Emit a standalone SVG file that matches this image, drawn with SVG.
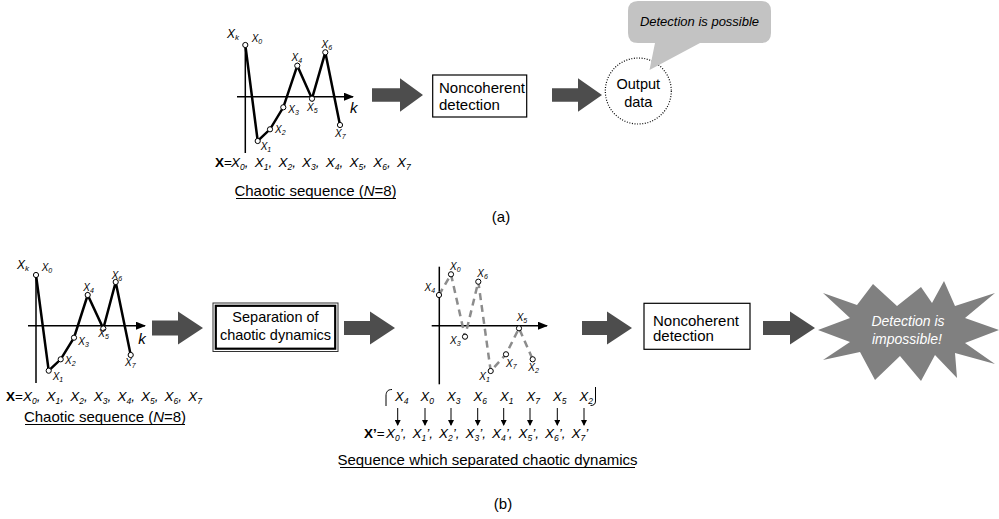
<svg xmlns="http://www.w3.org/2000/svg" width="999" height="519" viewBox="0 0 999 519">
<style>
text{font-family:"Liberation Sans",Arial,sans-serif;fill:#000}
.lbl{font-size:10px;font-style:italic}
.sb{font-size:7px}
.f{font-size:13.5px;font-style:italic}
.fs{font-size:8.5px}
.t15{font-size:15px}
.bx{fill:#fff;stroke:#000;stroke-width:1.2}
.ax{stroke:#000;stroke-width:1.5;fill:none}
.sol{stroke:#000;stroke-width:2.5;fill:none;stroke-linejoin:miter}
.dsh{stroke:#8c8c8c;stroke-width:2.5;fill:none;stroke-dasharray:7 5}
.pt{fill:#fff;stroke:#000;stroke-width:1}
.big{fill:#4d4d4d}
.da{stroke:#000;stroke-width:1;fill:none}
.ul{stroke:#000;stroke-width:1}
</style>
<defs>
<marker id="ah" markerWidth="10" markerHeight="8" refX="9" refY="4" orient="auto" markerUnits="userSpaceOnUse"><path d="M0,0 L10,4 L0,8 z" fill="#000"/></marker>
<marker id="dh" markerWidth="6" markerHeight="6" refX="5" refY="3" orient="auto" markerUnits="userSpaceOnUse"><path d="M0,0 L6,3 L0,6 z" fill="#000"/></marker>
</defs>

<!-- (a) chaotic graph -->
<g id="graph-a">
<line class="ax" x1="245.3" y1="45" x2="245.3" y2="153"/>
<line class="ax" x1="237" y1="96.7" x2="353" y2="96.7" marker-end="url(#ah)"/>
<polyline class="sol" points="245.3,45 257.7,141 270,129.3 283.3,107.3 297.3,65.7 312,98.7 325.3,52.3 340,125"/>
<circle class="pt" cx="245.3" cy="45" r="2.6"/><circle class="pt" cx="257.7" cy="141" r="2.6"/><circle class="pt" cx="270" cy="129.3" r="2.6"/><circle class="pt" cx="283.3" cy="107.3" r="2.6"/><circle class="pt" cx="297.3" cy="65.7" r="2.6"/><circle class="pt" cx="312" cy="98.7" r="2.6"/><circle class="pt" cx="325.3" cy="52.3" r="2.6"/><circle class="pt" cx="340" cy="125" r="2.6"/>
<text x="227" y="38" style="font-size:12px;font-style:italic">X<tspan style="font-size:8px" dy="2">k</tspan></text>
<text class="lbl" x="251.7" y="42">X<tspan class="sb" dy="2">0</tspan></text>
<text class="lbl" x="260.7" y="150">X<tspan class="sb" dy="2">1</tspan></text>
<text class="lbl" x="275" y="133">X<tspan class="sb" dy="2">2</tspan></text>
<text class="lbl" x="288.3" y="113">X<tspan class="sb" dy="2">3</tspan></text>
<text class="lbl" x="291.5" y="61">X<tspan class="sb" dy="2">4</tspan></text>
<text class="lbl" x="307" y="111">X<tspan class="sb" dy="2">5</tspan></text>
<text class="lbl" x="321.5" y="48">X<tspan class="sb" dy="2">6</tspan></text>
<text class="lbl" x="335" y="137">X<tspan class="sb" dy="2">7</tspan></text>
<text x="350" y="113" style="font-size:15px;font-style:italic">k</text>
<text class="f" y="167"><tspan x="215" style="font-weight:bold;font-style:normal">X</tspan><tspan style="font-style:normal">=</tspan><tspan x="231">X</tspan><tspan class="fs" dy="2.5">0</tspan><tspan dy="-2.5">,</tspan><tspan x="254.7">X</tspan><tspan class="fs" dy="2.5">1</tspan><tspan dy="-2.5">,</tspan><tspan x="278.4">X</tspan><tspan class="fs" dy="2.5">2</tspan><tspan dy="-2.5">,</tspan><tspan x="302.1">X</tspan><tspan class="fs" dy="2.5">3</tspan><tspan dy="-2.5">,</tspan><tspan x="325.8">X</tspan><tspan class="fs" dy="2.5">4</tspan><tspan dy="-2.5">,</tspan><tspan x="349.5">X</tspan><tspan class="fs" dy="2.5">5</tspan><tspan dy="-2.5">,</tspan><tspan x="373.2">X</tspan><tspan class="fs" dy="2.5">6</tspan><tspan dy="-2.5">,</tspan><tspan x="396.9">X</tspan><tspan class="fs" dy="2.5">7</tspan></text>
<text class="t15" x="315.5" y="196" text-anchor="middle">Chaotic sequence (<tspan font-style="italic">N</tspan>=8)</text>
<line class="ul" x1="236" y1="198.5" x2="396" y2="198.5"/>
</g>

<g id="box-a">
<rect class="bx" x="432.7" y="75" width="94" height="42"/>
<text class="t15" x="439" y="93">Noncoherent</text>
<text class="t15" x="439" y="110">detection</text>
</g>

<g id="output-a">
<circle cx="638.3" cy="91" r="33" fill="#fff" stroke="#000" stroke-width="1.2" stroke-dasharray="1 1.6"/>
<text x="638.3" y="89" text-anchor="middle" style="font-size:14.5px">Output</text>
<text x="638.3" y="107" text-anchor="middle" style="font-size:14.5px">data</text>
</g>

<g id="callout-a">
<path d="M638,1 H761 Q771,1 771,11 V33 Q771,43 761,43 H700 L649.5,70 L655,43 H638 Q628,43 628,33 V11 Q628,1 638,1 Z" fill="#c3c3c3"/>
<text x="699.5" y="26" text-anchor="middle" style="font-size:13px;font-style:italic">Detection is possible</text>
</g>

<text class="t15" x="501" y="222" text-anchor="middle">(a)</text>

<!-- (b) left graph -->
<g id="graph-b">
<line class="ax" x1="36" y1="275" x2="36" y2="383"/>
<line class="ax" x1="28" y1="325.7" x2="145" y2="325.7" marker-end="url(#ah)"/>
<polyline class="sol" points="36,275 48.7,370.7 60.7,359.3 74,337.7 87.7,295 103.3,328.5 115.7,282 130.7,355"/>
<circle class="pt" cx="36" cy="275" r="2.6"/><circle class="pt" cx="48.7" cy="370.7" r="2.6"/><circle class="pt" cx="60.7" cy="359.3" r="2.6"/><circle class="pt" cx="74" cy="337.7" r="2.6"/><circle class="pt" cx="87.7" cy="295" r="2.6"/><circle class="pt" cx="103.3" cy="328.5" r="2.6"/><circle class="pt" cx="115.7" cy="282" r="2.6"/><circle class="pt" cx="130.7" cy="355" r="2.6"/>
<text x="17" y="269" style="font-size:12px;font-style:italic">X<tspan style="font-size:8px" dy="2">k</tspan></text>
<text class="lbl" x="41.7" y="271">X<tspan class="sb" dy="2">0</tspan></text>
<text class="lbl" x="52.7" y="380">X<tspan class="sb" dy="2">1</tspan></text>
<text class="lbl" x="65" y="363.5">X<tspan class="sb" dy="2">2</tspan></text>
<text class="lbl" x="78.3" y="344.5">X<tspan class="sb" dy="2">3</tspan></text>
<text class="lbl" x="83.3" y="291">X<tspan class="sb" dy="2">4</tspan></text>
<text class="lbl" x="98.3" y="337">X<tspan class="sb" dy="2">5</tspan></text>
<text class="lbl" x="111.7" y="278.5">X<tspan class="sb" dy="2">6</tspan></text>
<text class="lbl" x="125" y="365.5">X<tspan class="sb" dy="2">7</tspan></text>
<text x="138.3" y="344" style="font-size:15px;font-style:italic">k</text>
<text class="f" y="401"><tspan x="6" style="font-weight:bold;font-style:normal">X</tspan><tspan style="font-style:normal">=</tspan><tspan x="23">X</tspan><tspan class="fs" dy="2.5">0</tspan><tspan dy="-2.5">,</tspan><tspan x="46.6">X</tspan><tspan class="fs" dy="2.5">1</tspan><tspan dy="-2.5">,</tspan><tspan x="70.2">X</tspan><tspan class="fs" dy="2.5">2</tspan><tspan dy="-2.5">,</tspan><tspan x="93.8">X</tspan><tspan class="fs" dy="2.5">3</tspan><tspan dy="-2.5">,</tspan><tspan x="117.4">X</tspan><tspan class="fs" dy="2.5">4</tspan><tspan dy="-2.5">,</tspan><tspan x="141">X</tspan><tspan class="fs" dy="2.5">5</tspan><tspan dy="-2.5">,</tspan><tspan x="164.6">X</tspan><tspan class="fs" dy="2.5">6</tspan><tspan dy="-2.5">,</tspan><tspan x="188.2">X</tspan><tspan class="fs" dy="2.5">7</tspan></text>
<text class="t15" x="105" y="422" text-anchor="middle">Chaotic sequence (<tspan font-style="italic">N</tspan>=8)</text>
<line class="ul" x1="25" y1="424.5" x2="185" y2="424.5"/>
</g>

<g id="sep-box">
<rect x="213" y="303" width="125" height="48.5" fill="#fff" stroke="#333" stroke-width="1"/>
<rect x="215.8" y="305.8" width="119.4" height="42.9" fill="none" stroke="#000" stroke-width="2.2"/>
<text x="275.5" y="322" text-anchor="middle" style="font-size:14.5px">Separation of</text>
<text x="275.5" y="340" text-anchor="middle" style="font-size:14.5px">chaotic dynamics</text>
</g>

<!-- (b) middle scatter -->
<g id="graph-mid">
<line class="ax" x1="439.3" y1="266.7" x2="439.3" y2="384.3"/>
<line class="ax" x1="431.7" y1="325.7" x2="547" y2="325.7" marker-end="url(#ah)"/>
<polyline class="dsh" points="439,295 451,274.3 465,336.7 478.3,281.7 490.7,371 506,354.3 519,328.3 532.7,359.3"/>
<circle class="pt" cx="439" cy="295" r="2.6"/><circle class="pt" cx="451" cy="274.3" r="2.6"/><circle class="pt" cx="465" cy="336.7" r="2.6"/><circle class="pt" cx="478.3" cy="281.7" r="2.6"/><circle class="pt" cx="490.7" cy="371" r="2.6"/><circle class="pt" cx="506" cy="354.3" r="2.6"/><circle class="pt" cx="519" cy="328.3" r="2.6"/><circle class="pt" cx="532.7" cy="359.3" r="2.6"/>
<text class="lbl" x="450" y="270">X<tspan class="sb" dy="2">0</tspan></text>
<text class="lbl" x="424.5" y="290.5">X<tspan class="sb" dy="2">4</tspan></text>
<text class="lbl" x="477.3" y="276.5">X<tspan class="sb" dy="2">6</tspan></text>
<text class="lbl" x="450" y="344">X<tspan class="sb" dy="2">3</tspan></text>
<text class="lbl" x="516.7" y="320.5">X<tspan class="sb" dy="2">5</tspan></text>
<text class="lbl" x="506" y="367">X<tspan class="sb" dy="2">7</tspan></text>
<text class="lbl" x="479.3" y="380">X<tspan class="sb" dy="2">1</tspan></text>
<text class="lbl" x="528.3" y="370.5">X<tspan class="sb" dy="2">2</tspan></text>
</g>

<g id="seq-row">
<path class="da" d="M392,389.5 C387.5,389.5 386,392 386,396 V406"/>
<path class="da" d="M595.5,387 V401 C595.5,404 594,405.5 590.5,405.5"/>
<g class="f" style="font-size:13px">
<text x="395" y="401">X<tspan class="fs" dy="2.5">4</tspan></text>
<text x="420.5" y="401">X<tspan class="fs" dy="2.5">0</tspan></text>
<text x="447" y="401">X<tspan class="fs" dy="2.5">3</tspan></text>
<text x="473.5" y="401">X<tspan class="fs" dy="2.5">6</tspan></text>
<text x="500" y="401">X<tspan class="fs" dy="2.5">1</tspan></text>
<text x="526.5" y="401">X<tspan class="fs" dy="2.5">7</tspan></text>
<text x="553" y="401">X<tspan class="fs" dy="2.5">5</tspan></text>
<text x="579.5" y="401">X<tspan class="fs" dy="2.5">2</tspan></text>
</g>
<line class="da" x1="397.7" y1="408" x2="397.7" y2="425" marker-end="url(#dh)"/>
<line class="da" x1="425" y1="408" x2="425" y2="425" marker-end="url(#dh)"/>
<line class="da" x1="451" y1="408" x2="451" y2="425" marker-end="url(#dh)"/>
<line class="da" x1="477.7" y1="408" x2="477.7" y2="425" marker-end="url(#dh)"/>
<line class="da" x1="503.7" y1="408" x2="503.7" y2="425" marker-end="url(#dh)"/>
<line class="da" x1="530" y1="408" x2="530" y2="425" marker-end="url(#dh)"/>
<line class="da" x1="557.3" y1="408" x2="557.3" y2="425" marker-end="url(#dh)"/>
<line class="da" x1="584" y1="408" x2="584" y2="425" marker-end="url(#dh)"/>
<text class="f" y="438"><tspan x="364" style="font-weight:bold;font-style:normal">X’</tspan><tspan style="font-style:normal">=</tspan><tspan x="386">X</tspan><tspan class="fs" dy="2.5">0</tspan><tspan dy="-2.5">’,</tspan><tspan x="412.5">X</tspan><tspan class="fs" dy="2.5">1</tspan><tspan dy="-2.5">’,</tspan><tspan x="439">X</tspan><tspan class="fs" dy="2.5">2</tspan><tspan dy="-2.5">’,</tspan><tspan x="465.5">X</tspan><tspan class="fs" dy="2.5">3</tspan><tspan dy="-2.5">’,</tspan><tspan x="492">X</tspan><tspan class="fs" dy="2.5">4</tspan><tspan dy="-2.5">’,</tspan><tspan x="518.5">X</tspan><tspan class="fs" dy="2.5">5</tspan><tspan dy="-2.5">’,</tspan><tspan x="545">X</tspan><tspan class="fs" dy="2.5">6</tspan><tspan dy="-2.5">’,</tspan><tspan x="571.5">X</tspan><tspan class="fs" dy="2.5">7</tspan><tspan dy="-2.5">’</tspan></text>
<text class="t15" x="487.5" y="465" text-anchor="middle">Sequence which separated chaotic dynamics</text>
<line class="ul" x1="340" y1="467.5" x2="635" y2="467.5"/>
</g>

<g id="box-b">
<rect class="bx" x="644" y="303.3" width="106" height="46"/>
<text class="t15" x="653" y="325.5">Noncoherent</text>
<text class="t15" x="653" y="341">detection</text>
</g>

<g id="star-b">
<polygon fill="#808080" points="818,330 850,318 823,293 857,305 873,284 897,306 921,287 932,303 944,281 955,306 995,293 965,318 999,330 965,343 995,364 955,353 957,378 935,355 921,381 900,356 875,380 860,352 823,360 850,342"/>
<text x="908" y="326" text-anchor="middle" style="font-size:14px;font-style:italic;fill:#fff">Detection is</text>
<text x="907" y="343.5" text-anchor="middle" style="font-size:14px;font-style:italic;fill:#fff">impossible!</text>
</g>

<text class="t15" x="503" y="509" text-anchor="middle">(b)</text>

<g id="connectors">
<path class="big" d="M372,88.3 H400 V78.3 L423,95 L400,111.7 V101.7 H372 Z"/>
<path class="big" d="M552,88.3 H578 V78.3 L602,95 L578,111.7 V101.7 H552 Z"/>
<path class="big" d="M152,320.5 H178 V311.5 L203,328 L178,344.5 V335.5 H152 Z"/>
<path class="big" d="M344,321 H370 V311.5 L395,328 L370,344.5 V335 H344 Z"/>
<path class="big" d="M582,321 H607 V311.5 L632,328 L607,344.5 V335 H582 Z"/>
<path class="big" d="M763,321 H790 V311.5 L815,328 L790,344.5 V335 H763 Z"/>
</g>
</svg>
